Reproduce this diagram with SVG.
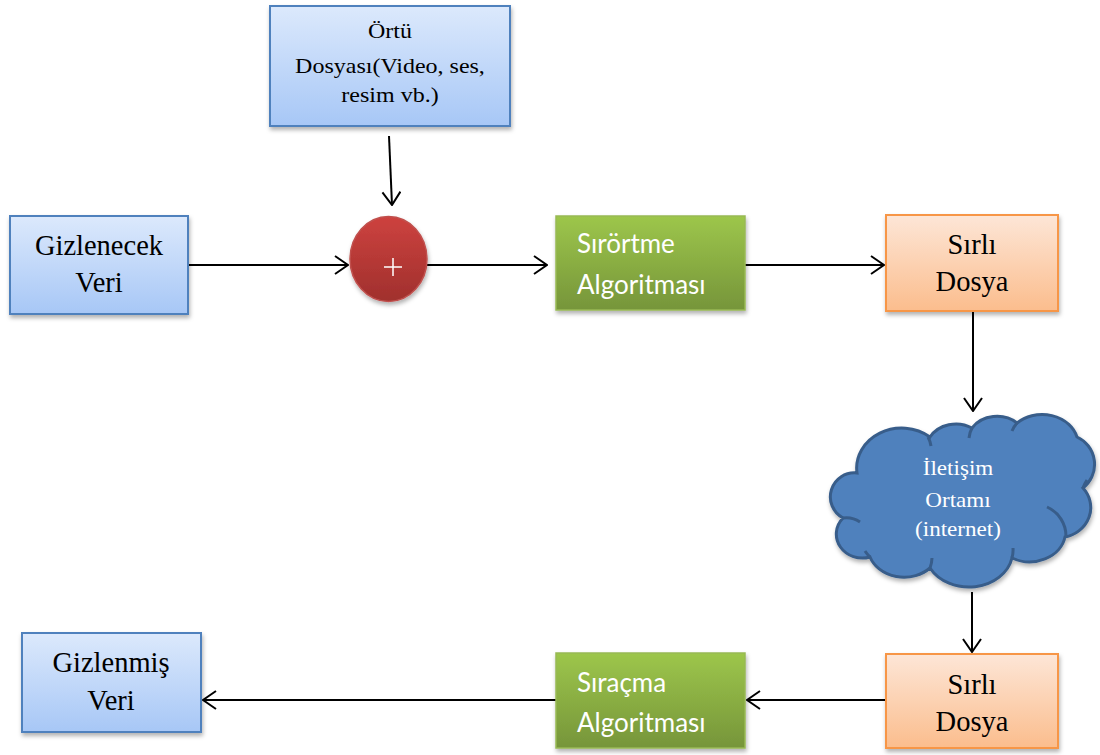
<svg xmlns="http://www.w3.org/2000/svg" width="1100" height="755" viewBox="0 0 1100 755">
  <defs>
    <linearGradient id="gBlue" x1="0" y1="0" x2="0" y2="1">
      <stop offset="0" stop-color="#dce9fc"/>
      <stop offset="1" stop-color="#a7c7f6"/>
    </linearGradient>
    <linearGradient id="gGreen" x1="0" y1="0" x2="0" y2="1">
      <stop offset="0" stop-color="#9dc64b"/>
      <stop offset="1" stop-color="#76953a"/>
    </linearGradient>
    <linearGradient id="gOrange" x1="0" y1="0" x2="0" y2="1">
      <stop offset="0" stop-color="#fde6d7"/>
      <stop offset="1" stop-color="#fbbd8d"/>
    </linearGradient>
    <linearGradient id="gRed" x1="0" y1="0" x2="0" y2="1">
      <stop offset="0" stop-color="#cd423f"/>
      <stop offset="1" stop-color="#a0302d"/>
    </linearGradient>
    <filter id="shadow" x="-10%" y="-10%" width="125%" height="130%">
      <feDropShadow dx="1" dy="3" stdDeviation="2" flood-color="#000" flood-opacity="0.3"/>
    </filter>
    <marker id="arrow" markerUnits="userSpaceOnUse" markerWidth="16" markerHeight="20" refX="15" refY="10" orient="auto">
      <path d="M2,1 L15,10 L2,19" fill="none" stroke="#000" stroke-width="2"/>
    </marker>
  </defs>
  <style>
    .blue { fill: url(#gBlue); stroke: #4f81bd; stroke-width: 2; filter: url(#shadow); }
    .green { fill: url(#gGreen); stroke: #98b954; stroke-width: 1.5; filter: url(#shadow); }
    .orange { fill: url(#gOrange); stroke: #f79646; stroke-width: 2; filter: url(#shadow); }
    .serif { font-family: "Liberation Serif", "Times New Roman", serif; fill: #000; text-anchor: middle; }
    .big { font-size: 28.5px; }
    .small { font-size: 20px; }
    .algo { font-family: Lato, "Open Sans", "Liberation Sans", sans-serif; font-size: 26px; fill: #fff; }
    .wserif { font-family: "Liberation Serif", "Times New Roman", serif; font-size: 21px; fill: #fff; text-anchor: middle; }
    .conn { fill: none; stroke: #000; stroke-width: 2; marker-end: url(#arrow); }
  </style>

  <rect width="1100" height="755" fill="#fff"/>

  <!-- connectors -->
  <g id="connectors">
    <path class="conn" d="M389,136 L392,205"/>
    <path class="conn" d="M188,265 L348,265"/>
    <path class="conn" d="M427,265 L547,265"/>
    <path class="conn" d="M745,265 L884,265"/>
    <path class="conn" d="M973,311 L973,411"/>
    <path class="conn" d="M972,592 L972,652"/>
    <path class="conn" d="M886,700 L747,700"/>
    <path class="conn" d="M556,700 L203,700"/>
  </g>

  <!-- cover file -->
  <g id="cover">
    <rect class="blue" x="270" y="6" width="240" height="120"/>
    <g transform="matrix(1.2,0,0,1,-78,0)">
      <text class="serif small" x="390" y="38">Örtü</text>
      <text class="serif small" x="390" y="73">Dosyası(Video, ses,</text>
      <text class="serif small" x="390" y="102">resim vb.)</text>
    </g>
  </g>

  <!-- data to hide -->
  <g id="hidden-data">
    <rect class="blue" x="10" y="216" width="178" height="98"/>
    <text class="serif big" x="99" y="255">Gizlenecek</text>
    <text class="serif big" x="99" y="292">Veri</text>
  </g>

  <!-- combine -->
  <g id="combine">
    <ellipse cx="388.5" cy="259" rx="38.5" ry="42.5" fill="url(#gRed)" stroke="#c0504d" stroke-width="1.5" filter="url(#shadow)"/>
    <path d="M393,258 V276 M384,267 H402" stroke="#fff" stroke-width="1.5"/>
  </g>

  <!-- embedding algorithm -->
  <g id="embed">
    <rect class="green" x="556" y="216" width="189" height="94"/>
    <text class="algo" x="577" y="253">Sırörtme</text>
    <text class="algo" x="577" y="294">Algoritması</text>
  </g>

  <!-- stego file -->
  <g id="stego-out">
    <rect class="orange" x="886" y="215" width="172" height="96"/>
    <text class="serif big" x="972" y="254">Sırlı</text>
    <text class="serif big" x="972" y="291">Dosya</text>
  </g>

  <!-- channel -->
  <g id="channel">
    <path d="M857,473
             A45,40 0 0 1 930,437
             A30,26 0 0 1 972,428
             A30,26 0 0 1 1017,423
             A36,30 0 0 1 1077,437
             A30,30 0 0 1 1083,488
             A32,30 0 0 1 1065,537
             A36,30 0 0 1 1012,558
             A44,36 0 0 1 930,568
             A36,30 0 0 1 870,557
             A26,24 0 0 1 843,518
             A24,24 0 0 1 857,473 Z"
          fill="#4f81bd" stroke="#385d8a" stroke-width="3" filter="url(#shadow)"/>
    <path d="M928,437 A28,28 0 0 1 931,446
             M972,428 A26,26 0 0 0 969,438
             M1017,423 A26,26 0 0 0 1012,431
             M1083,488 A30,30 0 0 1 1087,480
             M1047,507 A32,32 0 0 1 1066,537
             M1012,558 A30,30 0 0 0 1013,548
             M930,568 A30,30 0 0 0 932,558
             M870,557 A30,30 0 0 1 865,551
             M843,518 A24,24 0 0 1 860,522"
          fill="none" stroke="#385d8a" stroke-width="3"/>
    <g transform="matrix(1.1,0,0,1,-95.8,0)">
      <text class="wserif" x="958" y="475">İletişim</text>
      <text class="wserif" x="958" y="507">Ortamı</text>
      <text class="wserif" x="958" y="536">(internet)</text>
    </g>
  </g>

  <!-- received stego file -->
  <g id="stego-in">
    <rect class="orange" x="886" y="654" width="172" height="94"/>
    <text class="serif big" x="972" y="694">Sırlı</text>
    <text class="serif big" x="972" y="731">Dosya</text>
  </g>

  <!-- extraction algorithm -->
  <g id="extract">
    <rect class="green" x="556" y="653" width="189" height="95"/>
    <text class="algo" x="577" y="692">Sıraçma</text>
    <text class="algo" x="577" y="732">Algoritması</text>
  </g>

  <!-- recovered data -->
  <g id="recovered">
    <rect class="blue" x="22" y="633" width="179" height="99"/>
    <text class="serif big" x="111" y="672">Gizlenmiş</text>
    <text class="serif big" x="111" y="710">Veri</text>
  </g>
</svg>
